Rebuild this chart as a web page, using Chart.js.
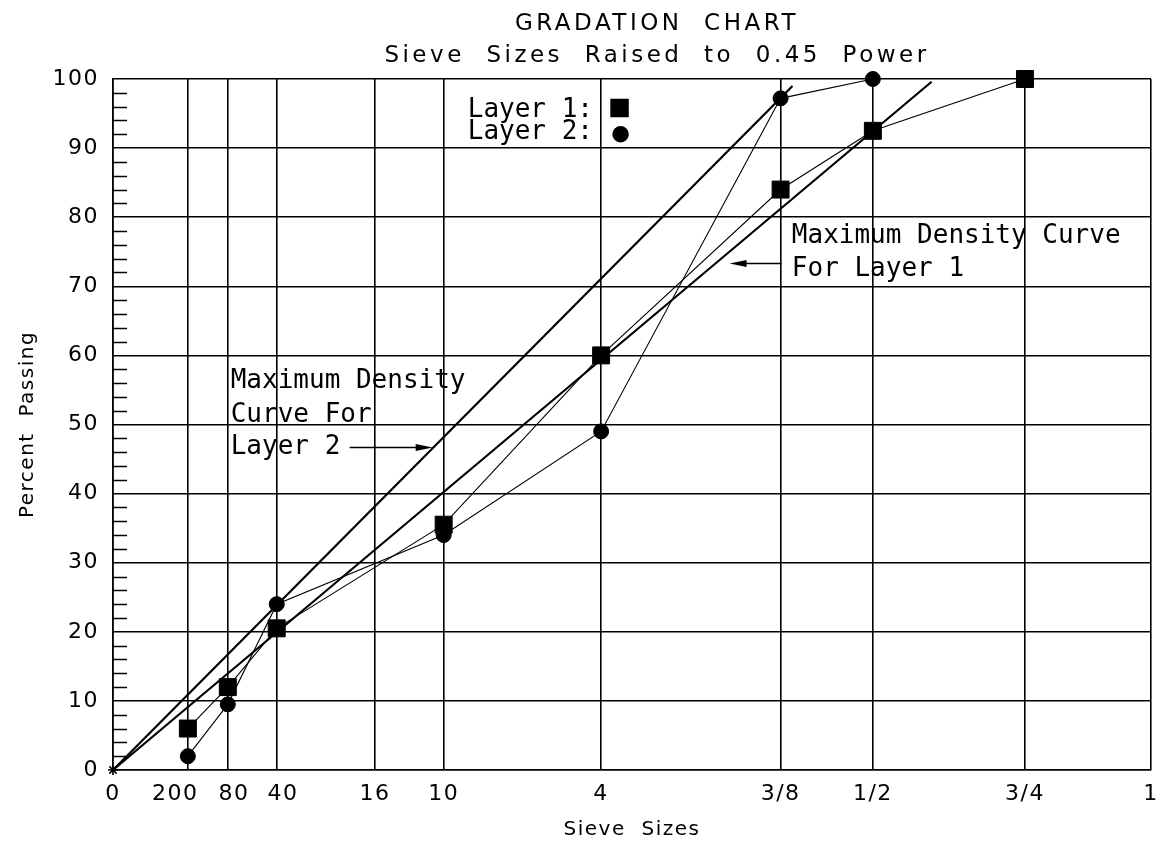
<!DOCTYPE html>
<html>
<head>
<meta charset="utf-8">
<title>Gradation Chart</title>
<script src="https://cdn.jsdelivr.net/npm/chart.js@4.4.0/dist/chart.umd.min.js"></script>
<style>
  html, body { margin: 0; padding: 0; background: #fff; }
  canvas { display: block; }
</style>
</head>
<body>
<canvas id="chart" width="1159" height="847"></canvas>
<script>
/* global Chart */

// Sieve openings in inches. The x axis is opening ^ 0.45.
const sieveLabels = ['0', '200', '80', '40', '16', '10', '4', '3/8', '1/2', '3/4', '1'];
const sieveInches = [0, 0.0029, 0.0075, 0.0165, 0.0469, 0.0787, 0.187, 0.375, 0.5, 0.75, 1];

// percent passing per layer
const layer1Sieves  = ['200', '80', '40', '10', '4', '3/8', '1/2', '3/4'];
const layer1Passing = [6, 12, 20.5, 35.5, 60, 84, 92.5, 100];
const layer2Sieves  = ['200', '80', '40', '10', '4', '3/8', '1/2'];
const layer2Passing = [2, 9.5, 24, 34, 49, 97.2, 100];

// maximum density lines (start at origin)
const maxDensity1Inches  = [0, 0.59];
const maxDensity1Passing = [0, 99.6];
const maxDensity2Inches  = [0, 0.39];
const maxDensity2Passing = [0, 99];

const POWER = 0.45;
const INK = '#000';

const toX = (inches) => Math.pow(inches, POWER);
const sieveX = (label) => toX(sieveInches[sieveLabels.indexOf(label)]);

const sans = (size) => ({ family: 'DejaVu Sans', size });
const MONO = '26px "DejaVu Sans Mono"';

// the three crowded fine-sieve labels are pushed apart a little, like the original
const crowdedLabel = { '200': (t) => t + '\u2002\u2002', '80': (t) => '\u2002' + t, '40': (t) => '\u2002' + t };

// Title, key, notes and small left ticks are drawn on the canvas here.
const gradationPlugin = {
  id: 'gradation',
  beforeDraw(chart) {
    chart.ctx.letterSpacing = '1.5px';
  },
  afterDraw(chart, args, opts) {
    const { ctx, chartArea: area, scales: { x, y } } = chart;
    ctx.save();
    ctx.fillStyle = INK;
    ctx.strokeStyle = INK;

    // title
    ctx.letterSpacing = '3.5px';
    ctx.font = '23px "DejaVu Sans"';
    ctx.textAlign = 'center';
    ctx.textBaseline = 'alphabetic';
    const cx = (area.left + area.right) / 2 + opts.titleShift;
    opts.title.forEach((line, i) => ctx.fillText(line, cx, opts.titleBaselines[i]));

    // minor ticks on the left edge
    ctx.lineWidth = 1.5;
    for (let v = y.min; v <= y.max; v += opts.minorStep) {
      if (v % 10 === 0) continue;
      const py = Math.round(y.getPixelForValue(v)) + 0.5;
      ctx.beginPath();
      ctx.moveTo(area.left, py);
      ctx.lineTo(area.left + opts.minorLength, py);
      ctx.stroke();
    }

    ctx.letterSpacing = '0px';
    ctx.font = MONO;
    ctx.textAlign = 'left';

    // notes with arrows
    opts.notes.forEach((note) => {
      note.lines.forEach((line, i) => {
        ctx.fillText(line, x.getPixelForValue(note.x), y.getPixelForValue(note.y[i]));
      });
      const a = note.arrow;
      const ay = Math.round(y.getPixelForValue(a.y)) + 0.5;
      const x0 = x.getPixelForValue(a.from);
      const x1 = x.getPixelForValue(a.to);
      const dir = Math.sign(x1 - x0);
      ctx.lineWidth = 1.5;
      ctx.beginPath();
      ctx.moveTo(x0, ay);
      ctx.lineTo(x1 - dir * 10, ay);
      ctx.stroke();
      ctx.beginPath();
      ctx.moveTo(x1, ay);
      ctx.lineTo(x1 - dir * 17, ay - 3.5);
      ctx.lineTo(x1 - dir * 17, ay + 3.5);
      ctx.closePath();
      ctx.fill();
    });

    // key
    ctx.textAlign = 'right';
    opts.key.forEach((item) => {
      const ds = chart.data.datasets[item.dataset];
      ctx.fillText(item.text, x.getPixelForValue(item.textX), y.getPixelForValue(item.textY));
      Chart.helpers.drawPoint(ctx, {
        pointStyle: ds.pointStyle,
        radius: ds.pointRadius,
        rotation: 0,
        borderWidth: 1,
      }, x.getPixelForValue(item.x), y.getPixelForValue(item.y));
    });

    ctx.restore();
  },
};

new Chart(document.getElementById('chart'), {
  type: 'scatter',
  data: {
    datasets: [
      {
        label: 'Layer 1',
        data: layer1Sieves.map((s, i) => ({ x: sieveX(s), y: layer1Passing[i] })),
        showLine: true,
        borderColor: INK,
        borderWidth: 1.1,
        pointStyle: 'rect',
        pointRadius: 12,
        pointBackgroundColor: INK,
        pointBorderColor: INK,
        pointBorderWidth: 1,
        clip: false,
      },
      {
        label: 'Layer 2',
        data: layer2Sieves.map((s, i) => ({ x: sieveX(s), y: layer2Passing[i] })),
        showLine: true,
        borderColor: INK,
        borderWidth: 1.1,
        pointStyle: 'circle',
        pointRadius: 7.5,
        pointBackgroundColor: INK,
        pointBorderColor: INK,
        pointBorderWidth: 1,
        clip: false,
      },
      {
        label: 'Maximum Density Curve For Layer 1',
        data: maxDensity1Inches.map((s, i) => ({ x: toX(s), y: maxDensity1Passing[i] })),
        showLine: true,
        borderColor: INK,
        borderWidth: 2.2,
        pointStyle: 'star',
        pointRadius: [5, 0],
        pointBorderColor: INK,
        pointBorderWidth: 1.2,
        clip: false,
      },
      {
        label: 'Maximum Density Curve For Layer 2',
        data: maxDensity2Inches.map((s, i) => ({ x: toX(s), y: maxDensity2Passing[i] })),
        showLine: true,
        borderColor: INK,
        borderWidth: 2.2,
        pointStyle: 'star',
        pointRadius: [5, 0],
        pointBorderColor: INK,
        pointBorderWidth: 1.2,
        clip: false,
      },
    ],
  },
  options: {
    responsive: false,
    animation: false,
    events: [],
    layout: { autoPadding: false, padding: { top: 79, right: 8, left: 0, bottom: 0 } },
    plugins: {
      legend: { display: false },
      tooltip: { enabled: false },
      title: { display: false },
      gradation: {
        title: ['GRADATION  CHART', 'Sieve  Sizes  Raised  to  0.45  Power'],
        titleBaselines: [30, 62],
        titleShift: 25,
        minorStep: 2,
        minorLength: 14,
        notes: [
          {
            lines: ['Maximum Density Curve', 'For Layer 1'],
            x: 0.654, y: [76.3, 71.5],
            arrow: { from: 0.644, to: 0.594, y: 73.4 },
          },
          {
            lines: ['Maximum Density', 'Curve For', 'Layer 2'],
            x: 0.1134, y: [55.3, 50.4, 45.7],
            arrow: { from: 0.228, to: 0.308, y: 46.8 },
          },
        ],
        key: [
          { text: 'Layer 1:', dataset: 0, textX: 0.4624, textY: 94.5, x: 0.488, y: 95.8 },
          { text: 'Layer 2:', dataset: 1, textX: 0.4624, textY: 91.3, x: 0.489, y: 92.0 },
        ],
      },
    },
    scales: {
      x: {
        type: 'linear',
        min: 0,
        max: 1,
        afterBuildTicks: (axis) => { axis.ticks = sieveInches.map((s) => ({ value: toX(s) })); },
        afterFit: (axis) => {
          axis.height = 77;
          axis.paddingLeft = 0;
          axis.paddingRight = 0;
        },
        grid: { color: INK, lineWidth: 1.6, drawTicks: false },
        border: { color: INK, width: 1.6 },
        ticks: {
          autoSkip: false,
          maxRotation: 0,
          padding: 11,
          color: INK,
          font: sans(22),
          callback: (value, index) => {
            const t = sieveLabels[index];
            return crowdedLabel[t] ? crowdedLabel[t](t) : t;
          },
        },
        title: {
          display: true,
          text: 'Sieve  Sizes',
          color: INK,
          font: sans(20),
          padding: { top: 0, bottom: 5 },
        },
      },
      y: {
        min: 0,
        max: 100,
        afterFit: (axis) => {
          axis.width = 113;
          axis.paddingTop = 0;
          axis.paddingBottom = 0;
        },
        grid: { color: INK, lineWidth: 1.6, drawTicks: false },
        border: { color: INK, width: 1.6 },
        ticks: { stepSize: 10, padding: 14, color: INK, font: sans(22) },
        title: {
          display: true,
          text: 'Percent  Passing',
          color: INK,
          font: sans(20),
          padding: { top: 16, bottom: 0 },
        },
      },
    },
  },
  plugins: [gradationPlugin],
});
</script>
</body>
</html>
